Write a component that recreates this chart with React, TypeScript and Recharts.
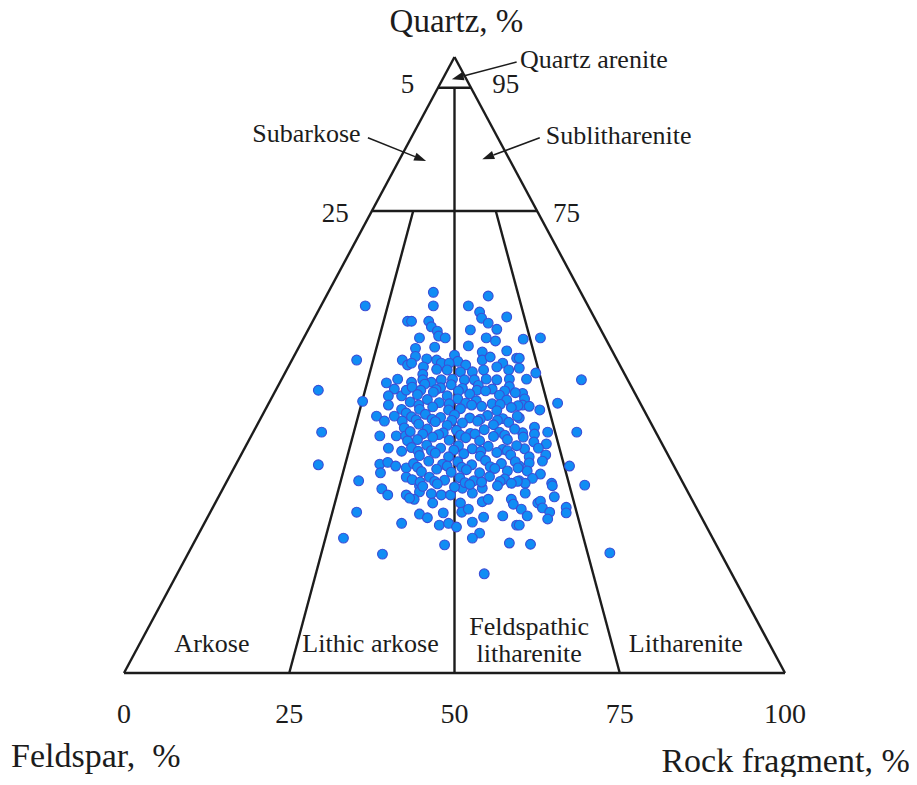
import React from 'react';
import { ScatterChart, Scatter, XAxis, YAxis, ReferenceLine, ReferenceDot } from 'recharts';

const FONT = '"Liberation Serif", "Times New Roman", Times, serif';
const INK = '#1c1c1c';

// Ticks on the feldspar → rock fragment base line
const baseTicks = [0, 25, 50, 75, 100];

// Quartz percentages bounding the upper fields
const quartzAreniteLimit = 95;
const subFieldLimit = 75;

// Feldspar : rock fragment splits, as positions on the base line
const ratioSplits = [25, 50, 75];

// Samples: [position on base line, quartz %]
const samples: [number, number][] = [
  [36.5, 59.6], [35.2, 50.8], [42.1, 50.8], [42.9, 57.1], [41.4, 47.7], [39.7, 47.1], [42.9, 50.0],
  [46.8, 61.8], [46.8, 59.6], [55.1, 61.2], [52.1, 59.6], [53.8, 58.6], [54.1, 57.6], [55.1, 56.8],
  [57.9, 57.8], [43.5, 57.1], [46.1, 57.1], [46.5, 56.2], [47.4, 55.5], [47.6, 54.7], [48.6, 54.4],
  [52.4, 55.7], [56.4, 55.8], [54.8, 54.4], [56.2, 53.9], [44.7, 54.4], [44.1, 52.7], [47.0, 52.9],
  [52.1, 53.1], [54.2, 52.1], [57.9, 52.3], [44.1, 51.4], [45.8, 51.0], [47.3, 50.8], [48.0, 50.3],
  [50.0, 51.6], [50.5, 50.6], [49.2, 50.3], [51.7, 50.0], [54.2, 50.8], [55.4, 51.3], [57.3, 50.3],
  [59.4, 51.1], [45.3, 49.7], [47.3, 49.3], [48.9, 49.2], [50.9, 48.9], [52.7, 48.9], [54.4, 49.2],
  [56.4, 49.7], [58.2, 49.2], [45.2, 48.5], [43.5, 50.3], [60.4, 54.2], [63.0, 54.4], [59.8, 51.1],
  [59.8, 49.5], [62.3, 48.7], [60.9, 47.7], [69.2, 47.6], [29.4, 45.9], [36.1, 44.1], [29.9, 39.1],
  [29.4, 33.8], [35.5, 31.2], [40.9, 46.1], [40.0, 45.0], [42.0, 45.0], [42.7, 45.9], [40.0, 43.5],
  [42.0, 42.8], [42.7, 42.2], [38.2, 41.7], [39.4, 40.9], [40.9, 41.7], [42.1, 40.9], [42.4, 39.8],
  [38.7, 38.5], [41.2, 38.5], [42.6, 38.5], [42.9, 37.7], [40.0, 36.5], [42.0, 36.0], [38.7, 33.9],
  [39.9, 34.2], [41.1, 33.6], [42.7, 33.3], [38.8, 32.5], [42.7, 31.8], [60.3, 45.4], [60.6, 44.5],
  [60.3, 43.5], [61.3, 43.3], [62.9, 42.7], [65.6, 43.8], [59.8, 41.4], [62.1, 39.9], [62.1, 38.8],
  [64.1, 39.1], [60.3, 39.0], [60.4, 38.3], [68.5, 39.1], [62.0, 37.5], [63.9, 37.2], [60.6, 36.4],
  [62.7, 36.5], [63.8, 35.4], [61.3, 35.1], [61.3, 34.1], [63.3, 34.4], [59.8, 33.6], [67.4, 33.6],
  [61.0, 32.8], [63.0, 32.3], [61.8, 31.6], [59.8, 31.2], [60.7, 30.8], [64.7, 30.8], [69.7, 30.5],
  [39.0, 29.9], [39.9, 28.9], [42.7, 28.9], [35.2, 26.1], [42.0, 24.3], [33.2, 21.9], [39.1, 19.3],
  [44.7, 30.4], [44.7, 29.4], [43.9, 28.2], [46.5, 29.1], [48.0, 28.9], [49.4, 28.9], [46.7, 27.6],
  [51.2, 30.0], [52.7, 29.2], [54.2, 30.0], [54.2, 27.8], [55.1, 28.2], [50.9, 27.6], [51.1, 26.1],
  [52.1, 26.6], [44.7, 25.8], [45.9, 25.2], [48.3, 26.0], [47.7, 24.0], [49.1, 24.3], [50.3, 23.7],
  [52.7, 24.5], [54.4, 25.3], [53.8, 22.7], [52.7, 21.9], [48.5, 20.8], [57.3, 25.5], [58.6, 28.2],
  [58.9, 27.4], [59.4, 24.0], [58.3, 21.1], [54.5, 16.1], [43.2, 28.4], [60.7, 29.2], [64.8, 30.4],
  [65.1, 28.6], [62.6, 27.6], [63.0, 27.9], [63.3, 26.8], [64.4, 26.1], [66.9, 26.9], [66.9, 26.0],
  [60.1, 26.6], [61.0, 25.5], [64.1, 25.0], [59.8, 24.0], [61.5, 20.9], [73.5, 19.5],
  [43.5, 47.2], [45.2, 47.6], [46.5, 47.2], [48.0, 47.6], [49.7, 47.7], [51.5, 47.6], [53.0, 47.6],
  [54.8, 47.7], [56.4, 47.6], [58.3, 47.7],
  [43.6, 46.4], [45.5, 46.9], [47.9, 46.3], [49.5, 46.8], [51.2, 46.2], [53.6, 46.7], [55.7, 46.1], [58.3, 46.5],
  [44.9, 45.9], [47.2, 46.0], [50.6, 45.8], [53.4, 45.9], [57.6, 45.8],
  [44.4, 45.2], [46.8, 45.6], [48.9, 45.0], [52.3, 45.3], [54.7, 45.8], [56.8, 45.1], [59.2, 45.5],
  [43.3, 44.0], [45.9, 44.4], [47.7, 43.9], [50.5, 44.5], [51.7, 43.8], [53.3, 44.2], [55.7, 43.7], [57.9, 44.3],
  [44.6, 43.5], [49.2, 43.7], [52.6, 43.5], [56.9, 43.6], [59.6, 43.4],
  [44.7, 42.8], [46.7, 43.2], [49.1, 42.7], [50.9, 42.9], [54.1, 43.3], [56.4, 42.6], [58.6, 43.1],
  [43.5, 41.6], [45.6, 42.0], [47.9, 41.5], [50.0, 41.9], [52.3, 41.4], [55.0, 41.8], [57.3, 41.3], [59.5, 41.7],
  [44.2, 41.1], [46.6, 41.2], [49.6, 41.0], [53.9, 41.2], [56.5, 41.0],
  [44.6, 40.4], [47.1, 40.8], [48.9, 40.2], [51.2, 40.6], [53.5, 40.9], [55.9, 40.3], [58.2, 40.7],
  [43.3, 39.2], [45.9, 39.6], [48.3, 39.0], [50.3, 39.4], [52.4, 38.9], [54.5, 39.5], [56.8, 39.1], [59.1, 39.6],
  [45.2, 38.8], [47.6, 38.7], [50.9, 38.6], [53.1, 38.8], [57.6, 38.6],
  [44.4, 37.9], [46.7, 38.3], [49.2, 37.8], [51.7, 38.2], [53.8, 37.7], [55.9, 38.4], [58.0, 37.9],
  [43.5, 36.6], [45.8, 37.0], [47.9, 36.5], [50.6, 36.9], [52.7, 36.4], [55.1, 36.8], [57.3, 36.3], [59.4, 36.9],
  [44.5, 36.0], [46.5, 36.1], [49.9, 36.2], [54.0, 36.0], [58.0, 36.1],
  [44.7, 35.3], [47.1, 35.7], [49.1, 35.1], [51.4, 35.6], [53.9, 35.2], [56.4, 35.8], [58.5, 35.4],
  [43.8, 34.0], [46.1, 34.4], [48.2, 33.9], [50.5, 34.3], [52.6, 33.8], [54.7, 34.5], [57.1, 34.0], [59.2, 34.3],
  [44.4, 33.4], [48.9, 33.6], [51.1, 33.4], [55.4, 33.5], [59.6, 33.3],
  [45.0, 32.7], [47.3, 33.1], [49.5, 32.6], [51.8, 33.0], [53.8, 32.5], [56.1, 33.2], [58.0, 32.8],
  [43.6, 31.4], [46.2, 31.8], [48.5, 31.3], [50.8, 31.7], [52.9, 31.2], [55.3, 31.9], [57.6, 31.5], [59.5, 31.1],
  [44.8, 31.0], [47.0, 31.1], [51.6, 30.9], [54.1, 31.0], [56.9, 31.1],
  [45.2, 30.3], [47.4, 30.7], [50.0, 30.2], [52.3, 30.6], [56.5, 30.4], [58.6, 30.8],
];

const sampleData = samples.map(([x, q]) => ({ x, q }));

type Pt = { x: number; y: number };
type Seg = [Pt, Pt];

// Outline and field boundaries of the Q–F–R triangle
const apex: Pt = { x: 50, y: 100 };
const segments: Seg[] = [
  [{ x: 0, y: 0 }, apex],
  [apex, { x: 100, y: 0 }],
  [{ x: 0, y: 0 }, { x: 100, y: 0 }],
  [{ x: quartzAreniteLimit / 2, y: quartzAreniteLimit }, { x: 100 - quartzAreniteLimit / 2, y: quartzAreniteLimit }],
  [{ x: subFieldLimit / 2, y: subFieldLimit }, { x: 100 - subFieldLimit / 2, y: subFieldLimit }],
  ...ratioSplits.map((s): Seg => {
    const top = s === 50 ? quartzAreniteLimit : subFieldLimit;
    return [{ x: 50 + (s - 50) * (1 - top / 100), y: top }, { x: s, y: 0 }];
  }),
];

type Note = { text: string; x: number; q: number; size: number; anchor: 'start' | 'middle' | 'end' };
const notes: Note[] = [
  { text: 'Quartz, %', x: 50.3, q: 104.0, size: 33, anchor: 'middle' },
  { text: 'Quartz arenite', x: 59.9, q: 98.2, size: 26, anchor: 'start' },
  { text: '5', x: 43.9, q: 94.2, size: 27, anchor: 'end' },
  { text: '95', x: 55.7, q: 94.2, size: 27, anchor: 'start' },
  { text: 'Subarkose', x: 19.4, q: 86.2, size: 26, anchor: 'start' },
  { text: 'Sublitharenite', x: 63.8, q: 85.9, size: 26, anchor: 'start' },
  { text: '25', x: 34.0, q: 73.2, size: 27, anchor: 'end' },
  { text: '75', x: 64.9, q: 73.2, size: 27, anchor: 'start' },
  { text: 'Arkose', x: 13.3, q: 3.4, size: 26, anchor: 'middle' },
  { text: 'Lithic arkose', x: 37.3, q: 3.4, size: 26, anchor: 'middle' },
  { text: 'Feldspathic', x: 61.3, q: 6.2, size: 26, anchor: 'middle' },
  { text: 'litharenite', x: 61.3, q: 1.8, size: 26, anchor: 'middle' },
  { text: 'Litharenite', x: 85.0, q: 3.4, size: 26, anchor: 'middle' },
  { text: 'Feldspar,\u00a0 %', x: -17.1, q: -15.3, size: 34, anchor: 'start' },
  { text: 'Rock fragment, %', x: 81.3, q: -16.1, size: 34, anchor: 'start' },
];

// Pointers from field names into their fields
const pointers: Seg[] = [
  [{ x: 59.4, y: 99.2 }, { x: 49.6, y: 96.4 }],
  [{ x: 36.9, y: 86.9 }, { x: 45.7, y: 83.1 }],
  [{ x: 62.9, y: 86.9 }, { x: 54.2, y: 83.4 }],
];

const ArrowShape = (p: any) => {
  const { x1, y1, x2, y2 } = p;
  const ang = Math.atan2(y2 - y1, x2 - x1);
  const len = 12;
  const half = 4.2;
  const bx = x2 - len * Math.cos(ang);
  const by = y2 - len * Math.sin(ang);
  const nx = -Math.sin(ang) * half;
  const ny = Math.cos(ang) * half;
  return (
    <g>
      <line x1={x1} y1={y1} x2={bx} y2={by} stroke={INK} strokeWidth={1.5} />
      <polygon points={`${x2},${y2} ${bx + nx},${by + ny} ${bx - nx},${by - ny}`} fill={INK} />
    </g>
  );
};

const noteShape = (n: Note) => (p: any) => (
  <text x={p.cx} y={p.cy} textAnchor={n.anchor} fontSize={n.size} fontFamily={FONT} fill={INK}>
    {n.text}
  </text>
);

const BaseTick = (p: any) => (
  <text x={p.x} y={p.y + 50} textAnchor="middle" fontSize={28} fontFamily={FONT} fill={INK}>
    {p.payload.value}
  </text>
);

const SampleDot = (p: any) => (
  <circle cx={p.cx} cy={p.cy} r={4.9} fill="#108df4" stroke="#3a4fd6" strokeWidth={1.1} />
);

export default function App() {
  return (
    <div style={{ margin: -8 }}>
      <ScatterChart
        width={917}
        height={785}
        margin={{ top: 57, right: 132, bottom: 52, left: 124 }}
        style={{ fontFamily: FONT }}
      >
        <XAxis
          type="number"
          dataKey="x"
          domain={[0, 100]}
          ticks={baseTicks}
          interval={0}
          axisLine={false}
          tickLine={false}
          tickSize={0}
          tickMargin={0}
          height={60}
          tick={<BaseTick />}
          allowDataOverflow
        />
        <YAxis type="number" dataKey="q" domain={[0, 100]} hide allowDataOverflow />
        {segments.map((s, i) => (
          <ReferenceLine
            key={`seg-${i}`}
            segment={s}
            stroke={INK}
            strokeWidth={2.4}
            ifOverflow="visible"
          />
        ))}
        {pointers.map((s, i) => (
          <ReferenceLine key={`ptr-${i}`} segment={s} ifOverflow="visible" shape={ArrowShape} />
        ))}
        <Scatter data={sampleData} isAnimationActive={false} shape={SampleDot} />
        {notes.map((n, i) => (
          <ReferenceDot key={`note-${i}`} x={n.x} y={n.q} r={0} ifOverflow="visible" shape={noteShape(n)} />
        ))}
      </ScatterChart>
    </div>
  );
}
